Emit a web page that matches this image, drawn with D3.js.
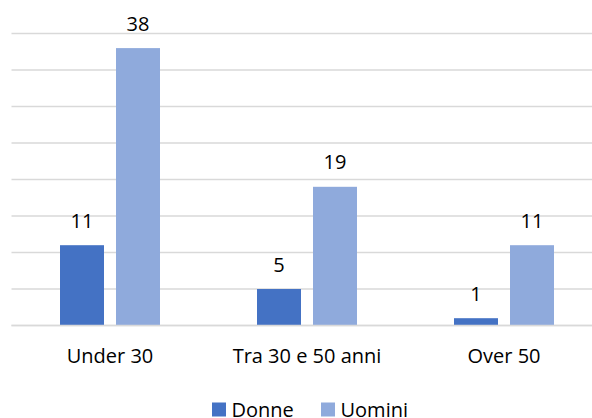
<!DOCTYPE html>
<html>
<head>
<meta charset="utf-8">
<script src="https://cdn.jsdelivr.net/npm/d3@7"></script>
<style>
  body { margin: 0; background: #fff; }
  text { font-family: "Open Sans", sans-serif; fill: #000; }
</style>
</head>
<body>
<div id="chart"></div>
<script>
// data
var categories = ["Under 30", "Tra 30 e 50 anni", "Over 50"];
var seriesNames = ["Donne", "Uomini"];
var donne = [11, 5, 1];
var uomini = [38, 19, 11];
var gridTicks = [0, 5, 10, 15, 20, 25, 30, 35, 40];
var colors = ["#4472C4", "#8FAADC"];

var width = 592, height = 418;

var svg = d3.select("#chart")
    .append("svg")
    .attr("width", width)
    .attr("height", height);

var x = d3.scaleBand()
    .domain(categories)
    .range([11.5, 602.5]);

// two bars of 44px with a 12px gap
var xInner = d3.scaleBand()
    .domain(seriesNames)
    .range([0, 100])
    .paddingInner(12 / 56);

var y = d3.scaleLinear()
    .domain([0, 40])
    .range([325.5, 33.5]);

// gridlines
svg.append("g")
    .selectAll("line")
    .data(gridTicks)
    .enter()
    .append("line")
        .attr("x1", 11.5)
        .attr("x2", 602)
        .attr("y1", function(d) { return y(d); })
        .attr("y2", function(d) { return y(d); })
        .attr("stroke", "#D9D9D9")
        .attr("stroke-width", 1.5);

var rows = categories.map(function(c, i) {
    return {cat: c, vals: [donne[i], uomini[i]]};
});

var group = svg.append("g")
    .selectAll("g")
    .data(rows)
    .enter()
    .append("g")
        .attr("transform", function(d) {
            return "translate(" + (x(d.cat) + x.bandwidth() / 2 - 50) + ",0)";
        });

var bars = group.selectAll("g")
    .data(function(d) {
        return d.vals.map(function(v, j) { return {name: seriesNames[j], value: v, j: j}; });
    })
    .enter()
    .append("g");

bars.append("rect")
    .attr("x", function(d) { return xInner(d.name); })
    .attr("width", xInner.bandwidth())
    .attr("y", function(d) { return y(d.value); })
    .attr("height", function(d) { return y(0) - y(d.value); })
    .attr("fill", function(d) { return colors[d.j]; });

// value labels
bars.append("text")
    .attr("x", function(d) { return xInner(d.name) + xInner.bandwidth() / 2; })
    .attr("y", function(d) { return y(d.value) - 17.5; })
    .attr("text-anchor", "middle")
    .attr("font-size", 20)
    .text(function(d) { return d.value; });

// baseline redrawn on top
svg.append("line")
    .attr("x1", 11.5)
    .attr("x2", 602)
    .attr("y1", y(0))
    .attr("y2", y(0))
    .attr("stroke", "#D9D9D9")
    .attr("stroke-width", 1.5);

// category labels
svg.append("g")
    .selectAll("text")
    .data(categories)
    .enter()
    .append("text")
        .attr("x", function(d) { return x(d) + x.bandwidth() / 2; })
        .attr("y", 363)
        .attr("text-anchor", "middle")
        .attr("font-size", 20)
        .text(function(d) { return d; });

// legend
var legendX = [212, 321];
var legend = svg.append("g")
    .selectAll("g")
    .data(seriesNames)
    .enter()
    .append("g")
        .attr("transform", function(d, i) { return "translate(" + legendX[i] + ",402.5)"; });

legend.append("rect")
    .attr("width", 14)
    .attr("height", 14)
    .attr("fill", function(d, i) { return colors[i]; });

legend.append("text")
    .attr("x", 19.5)
    .attr("y", 14)
    .attr("font-size", 20)
    .text(function(d) { return d; });
</script>
</body>
</html>
